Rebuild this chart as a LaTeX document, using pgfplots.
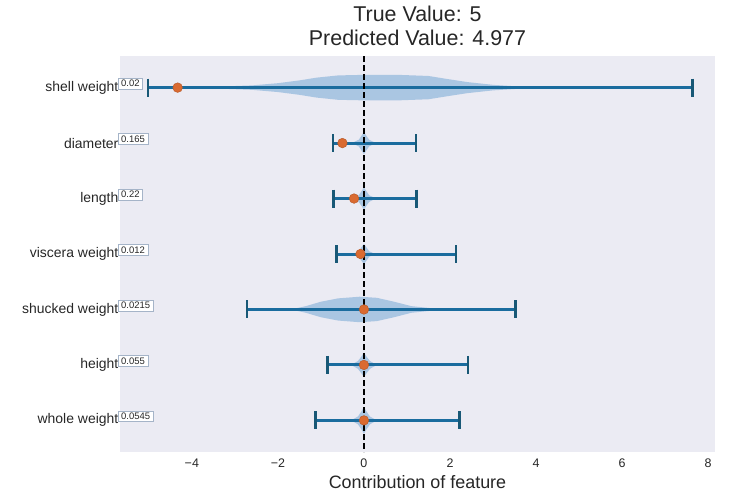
\documentclass[border=0pt]{standalone}
\usepackage{fontspec}
\setmainfont{Liberation Sans}
\usepackage{pgfplots}
\pgfplotsset{compat=1.18}
\definecolor{bgc}{HTML}{EBEBF3}
\definecolor{violc}{RGB}{164,194,225}
\definecolor{barc}{RGB}{26,108,158}
\definecolor{capc}{RGB}{24,88,118}
\definecolor{dotc}{RGB}{218,106,48}
\definecolor{txtc}{HTML}{262626}
\definecolor{boxc}{RGB}{165,180,200}

\tikzset{valbox/.style={draw=boxc, fill=white, line width=0.6bp, anchor=west,
  font=\fontsize{9.5}{10}\selectfont, text=txtc, inner xsep=3bp, inner ysep=2bp, yshift=4bp}}

\begin{document}
\begin{tikzpicture}
\begin{axis}[
  scale only axis, width=595bp, height=396bp,
  xmin=-5.67, xmax=8.16, ymin=-0.57, ymax=6.57, y dir=reverse,
  axis background/.style={fill=bgc},
  axis line style={draw=none},
  major tick length=0pt,
  xtick={-4,-2,0,2,4,6,8},
  xticklabels={−4,−2,0,2,4,6,8},
  ytick={0,...,6},
  yticklabels={shell weight,diameter,length,viscera weight,shucked weight,height,whole weight},
  xticklabel style={font=\fontsize{12.5}{14}\selectfont, text=txtc, anchor=base, yshift=-15bp},
  yticklabel style={font=\fontsize{14}{16}\selectfont, text=txtc, inner xsep=1.5bp},
  title={True Value: 5\\Predicted Value: 4.977},
  title style={font=\fontsize{21.5}{24}\selectfont, text=txtc, align=center,
    at={(axis description cs:0.5,1)}, anchor=south, inner sep=0pt, yshift=4bp},
  xlabel={Contribution of feature},
  xlabel style={font=\fontsize{18}{20}\selectfont, text=txtc,
    at={(axis description cs:0.5,0)}, anchor=base, inner sep=0pt, yshift=-36bp},
  clip=false,
]
% violins (x, row -/+ half width)
\addplot[fill=violc, draw=none, opacity=0.9] coordinates {
  (-3.9,0) (-3.3,-0.02) (-2.6,-0.04) (-2.0,-0.08) (-1.5,-0.13) (-1.1,-0.18) (-0.6,-0.22)
  (0.0,-0.23) (0.8,-0.23) (1.5,-0.21) (1.9,-0.16) (2.4,-0.10) (3.0,-0.05) (3.6,-0.02) (4.1,0)
  (3.6,0.02) (3.0,0.05) (2.4,0.10) (1.9,0.16) (1.5,0.21) (0.8,0.23) (0.0,0.23)
  (-0.6,0.22) (-1.1,0.18) (-1.5,0.13) (-2.0,0.08) (-2.6,0.04) (-3.3,0.02)} --cycle;
\addplot[fill=violc, draw=none, opacity=0.9] coordinates {
  (-0.28,1) (-0.12,0.94) (-0.05,0.86) (0,0.8) (0.05,0.86) (0.12,0.94) (0.28,1)
  (0.12,1.06) (0.05,1.14) (0,1.2) (-0.05,1.14) (-0.12,1.06)} --cycle;
\addplot[fill=violc, draw=none, opacity=0.9] coordinates {
  (-0.28,2) (-0.12,1.94) (-0.05,1.86) (0,1.8) (0.05,1.86) (0.12,1.94) (0.28,2)
  (0.12,2.06) (0.05,2.14) (0,2.2) (-0.05,2.14) (-0.12,2.06)} --cycle;
\addplot[fill=violc, draw=none, opacity=0.9] coordinates {
  (-0.26,3) (-0.12,2.95) (-0.05,2.87) (0,2.82) (0.05,2.87) (0.12,2.95) (0.26,3)
  (0.12,3.05) (0.05,3.13) (0,3.18) (-0.05,3.13) (-0.12,3.05)} --cycle;
\addplot[fill=violc, draw=none, opacity=0.9] coordinates {
  (-1.7,4) (-1.35,3.94) (-1.0,3.86) (-0.6,3.8) (-0.1,3.77) (0.3,3.79) (0.7,3.86) (1.1,3.94) (1.6,3.98) (2.0,4)
  (1.6,4.02) (1.1,4.06) (0.7,4.14) (0.3,4.21) (-0.1,4.23) (-0.6,4.2) (-1.0,4.14) (-1.35,4.06)} --cycle;
\addplot[fill=violc, draw=none, opacity=0.9] coordinates {
  (-0.3,5) (-0.14,4.93) (-0.06,4.85) (0,4.78) (0.06,4.85) (0.14,4.93) (0.3,5)
  (0.14,5.07) (0.06,5.15) (0,5.22) (-0.06,5.15) (-0.14,5.07)} --cycle;
\addplot[fill=violc, draw=none, opacity=0.9] coordinates {
  (-0.3,6) (-0.14,5.93) (-0.06,5.84) (0,5.76) (0.06,5.84) (0.14,5.93) (0.3,6)
  (0.14,6.07) (0.06,6.16) (0,6.24) (-0.06,6.16) (-0.14,6.07)} --cycle;
% whiskers
\addplot[barc, line width=3bp, unbounded coords=jump,
  mark=|, mark size=9bp, mark options={capc, line width=2.8bp}] table {
x y
-5.02 0
7.63 0
nan nan
-0.72 1
1.21 1
nan nan
-0.70 2
1.23 2
nan nan
-0.63 3
2.14 3
nan nan
-2.72 4
3.53 4
nan nan
-0.84 5
2.42 5
nan nan
-1.12 6
2.23 6
};
% predicted contributions
\addplot[only marks, mark=*, mark size=4.8bp, mark options={fill=dotc, draw=dotc!85!black, line width=0.5bp}] table {
x y
-4.33 0
-0.50 1
-0.23 2
-0.08 3
0.00 4
0.00 5
0.00 6
};
% zero line
\addplot[black, line width=1.8bp, dash pattern=on 6bp off 3bp] coordinates {(0,-0.57) (0,6.57)};
% value boxes
\node[valbox] at (axis cs:-5.72,0) {0.02};
\node[valbox] at (axis cs:-5.72,1) {0.165};
\node[valbox] at (axis cs:-5.72,2) {0.22};
\node[valbox] at (axis cs:-5.72,3) {0.012};
\node[valbox] at (axis cs:-5.72,4) {0.0215};
\node[valbox] at (axis cs:-5.72,5) {0.055};
\node[valbox] at (axis cs:-5.72,6) {0.0545};
\end{axis}
\pgfresetboundingbox
\path[use as bounding box] ([xshift=-120bp,yshift=-46bp]current axis.south west) rectangle ++(734bp,498bp);
\end{tikzpicture}
\end{document}
